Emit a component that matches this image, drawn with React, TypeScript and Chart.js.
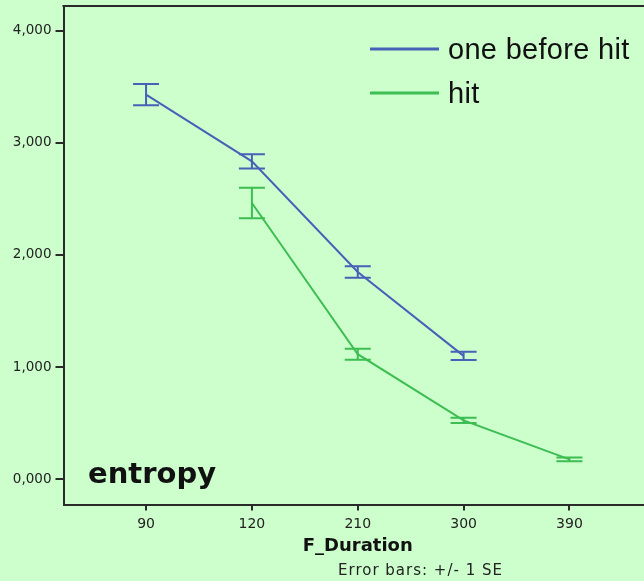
import { useEffect, useRef } from 'react';
import { Chart, registerables } from 'chart.js';

Chart.register(...registerables);

// Mean entropy by flight duration, with +/- 1 SE
const durations = ['90', '120', '210', '300', '390'];
const seriesNames = ['one before hit', 'hit'];
const oneBeforeHit: (number | null)[] = [3430, 2835, 1848, 1100, null];
const oneBeforeHitSE: (number | null)[] = [95, 63, 52, 37, null];
const hit: (number | null)[] = [null, 2463, 1115, 525, 177];
const hitSE: (number | null)[] = [null, 136, 49, 24, 17];
const yTickValues = [0, 1000, 2000, 3000, 4000];
const yTickLabels = ['0,000', '1,000', '2,000', '3,000', '4,000'];

const BG = '#ccffcc';
const BLUE = '#4760b8';
const GREEN = '#3dbd52';
const AXIS = '#2a2a2a';
const CANVAS_W = 660;
const CANVAS_H = 581;

const seSeries = [oneBeforeHitSE, hitSE];
const colors = [BLUE, GREEN];

const errorBars = {
  id: 'errorBars',
  afterDatasetsDraw(chart: any) {
    const { ctx, scales } = chart;
    const x = scales.x;
    const y = scales.y;
    chart.data.datasets.forEach((ds: any, di: number) => {
      const se = seSeries[di];
      ctx.save();
      ctx.strokeStyle = colors[di];
      ctx.lineWidth = 2;
      ds.data.forEach((pt: any, i: number) => {
        if (pt.y == null || se[i] == null) return;
        const px = x.getPixelForValue(pt.x);
        const top = y.getPixelForValue(pt.y + (se[i] as number));
        const bot = y.getPixelForValue(pt.y - (se[i] as number));
        ctx.beginPath();
        ctx.moveTo(px, top);
        ctx.lineTo(px, bot);
        ctx.moveTo(px - 13, top);
        ctx.lineTo(px + 13, top);
        ctx.moveTo(px - 13, bot);
        ctx.lineTo(px + 13, bot);
        ctx.stroke();
      });
      ctx.restore();
    });
  },
};

const frameAndText = {
  id: 'frameAndText',
  beforeDatasetsDraw(chart: any) {
    const { ctx, chartArea } = chart;
    ctx.save();
    ctx.strokeStyle = AXIS;
    ctx.lineWidth = 2;
    ctx.beginPath();
    ctx.moveTo(chartArea.left - 1, chartArea.top);
    ctx.lineTo(chart.width, chartArea.top);
    ctx.stroke();
    ctx.restore();
  },
  afterDraw(chart: any) {
    const { ctx, chartArea } = chart;
    ctx.save();
    // legend
    const rows = [49, 93];
    seriesNames.forEach((name, i) => {
      ctx.strokeStyle = colors[i];
      ctx.lineWidth = 3;
      ctx.beginPath();
      ctx.moveTo(370, rows[i]);
      ctx.lineTo(439, rows[i]);
      ctx.stroke();
      ctx.fillStyle = '#111';
      ctx.font = '29px "Liberation Sans", Arial, sans-serif';
      ctx.textAlign = 'left';
      ctx.textBaseline = 'alphabetic';
      (ctx as any).letterSpacing = '0.3px';
      ctx.fillText(name, 448, rows[i] + 10);
    });
    (ctx as any).letterSpacing = '0px';
    // variable label
    ctx.fillStyle = '#111';
    ctx.font = 'bold 29px "DejaVu Sans", sans-serif';
    ctx.fillText('entropy', 88, 483);
    // axis title
    ctx.font = 'bold 18px "DejaVu Sans", sans-serif';
    ctx.textAlign = 'center';
    ctx.fillText('F_Duration', (chartArea.left + chartArea.right) / 2, 551);
    // footnote
    ctx.font = '15px "DejaVu Sans", sans-serif';
    ctx.textAlign = 'left';
    ctx.fillStyle = '#222';
    (ctx as any).letterSpacing = '1px';
    ctx.fillText('Error bars: +/- 1 SE', 338, 575);
    ctx.restore();
  },
};

export default function App() {
  const canvasRef = useRef<HTMLCanvasElement | null>(null);

  useEffect(() => {
    const canvas = canvasRef.current;
    if (!canvas) return;
    const toPoints = (vals: (number | null)[]) => vals.map((v, i) => ({ x: i, y: v }));
    const chart = new Chart(canvas, {
      type: 'line',
      data: {
        datasets: [
          {
            label: seriesNames[0],
            data: toPoints(oneBeforeHit) as any,
            borderColor: BLUE,
            backgroundColor: BLUE,
            borderWidth: 2,
            pointRadius: 0,
            tension: 0,
            spanGaps: false,
          },
          {
            label: seriesNames[1],
            data: toPoints(hit) as any,
            borderColor: GREEN,
            backgroundColor: GREEN,
            borderWidth: 2,
            pointRadius: 0,
            tension: 0,
            spanGaps: false,
          },
        ],
      },
      options: {
        responsive: false,
        animation: false,
        events: [],
        layout: { padding: { left: 0, top: 6, right: CANVAS_W - 652, bottom: 0 } },
        plugins: {
          legend: { display: false },
          title: { display: false },
          tooltip: { enabled: false },
        },
        scales: {
          x: {
            type: 'linear',
            min: -0.78,
            max: 4.78,
            afterBuildTicks: (scale: any) => {
              scale.ticks = durations.map((_, i) => ({ value: i }));
            },
            afterFit: (scale: any) => {
              scale.height = CANVAS_H - 504.5;
              scale.paddingLeft = 0;
              scale.paddingRight = 0;
            },
            ticks: {
              autoSkip: false,
              maxRotation: 0,
              padding: 5,
              color: '#222',
              font: { family: '"DejaVu Sans", sans-serif', size: 14 },
              callback: (v: any) => durations[v as number] ?? '',
            },
            grid: { drawOnChartArea: false, drawTicks: true, tickLength: 6, color: AXIS, lineWidth: 2 },
            border: { display: true, color: AXIS, width: 2 },
          },
          y: {
            type: 'linear',
            min: -225,
            max: 4220,
            afterBuildTicks: (scale: any) => {
              scale.ticks = yTickValues.map((v) => ({ value: v }));
            },
            afterFit: (scale: any) => {
              scale.width = 63.5;
              scale.paddingTop = 0;
              scale.paddingBottom = 0;
            },
            ticks: {
              padding: 4,
              color: '#222',
              font: { family: '"DejaVu Sans", sans-serif', size: 13.5 },
              callback: (v: any) => {
                const k = yTickValues.indexOf(v as number);
                return k >= 0 ? yTickLabels[k] : '';
              },
            },
            grid: { drawOnChartArea: false, drawTicks: true, tickLength: 8, color: AXIS, lineWidth: 2 },
            border: { display: true, color: AXIS, width: 2 },
          },
        },
      },
      plugins: [frameAndText, errorBars],
    });
    return () => chart.destroy();
  }, []);

  return (
    <div
      style={{
        position: 'fixed',
        left: 0,
        top: 0,
        width: 644,
        height: CANVAS_H,
        overflow: 'hidden',
        background: BG,
      }}
    >
      <canvas
        ref={canvasRef}
        width={CANVAS_W}
        height={CANVAS_H}
        style={{ width: CANVAS_W, height: CANVAS_H, display: 'block' }}
      />
    </div>
  );
}
